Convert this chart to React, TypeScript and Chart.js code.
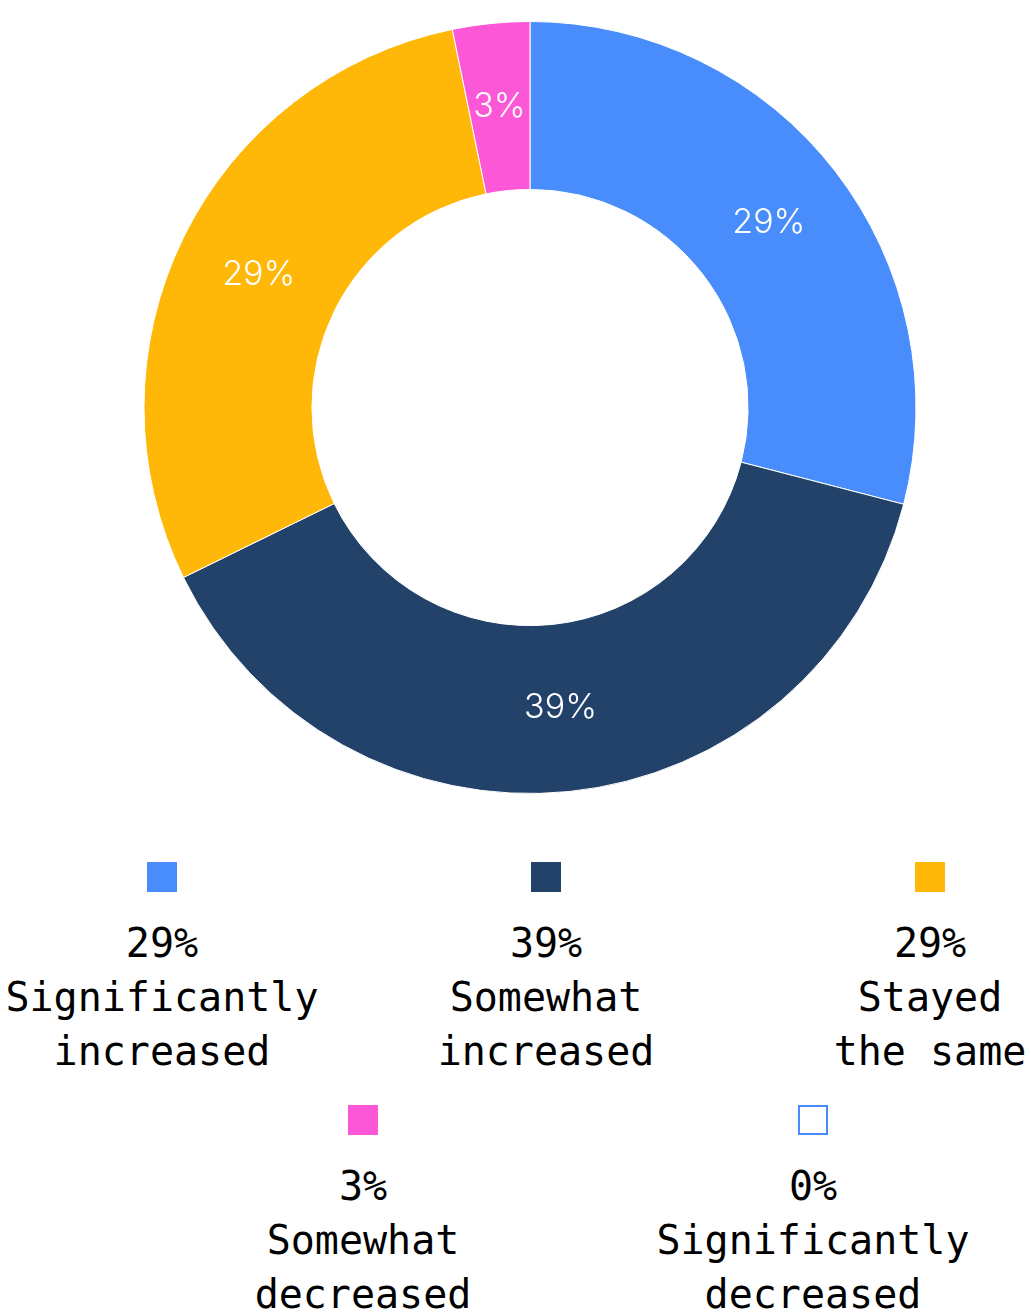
import React, { useEffect, useRef } from "react";
import { Chart, registerables } from "chart.js";

Chart.register(...registerables);

const categories = [
  "Significantly increased",
  "Somewhat increased",
  "Stayed the same",
  "Somewhat decreased",
  "Significantly decreased",
];
const legendLines = [
  ["Significantly", "increased"],
  ["Somewhat", "increased"],
  ["Stayed", "the same"],
  ["Somewhat", "decreased"],
  ["Significantly", "decreased"],
];
const counts = [9, 12, 9, 1, 0];
const colors = ["#488DFB", "#22426A", "#FFB808", "#FB57D7", "#488DFB"];

const total = counts.reduce((a, b) => a + b, 0);
const pct = (v: number) => Math.round((v / total) * 100);

const labelPlugin = {
  id: "sliceLabels",
  afterDatasetsDraw(chart: any) {
    const ctx = chart.ctx;
    const meta = chart.getDatasetMeta(0);
    ctx.save();
    ctx.fillStyle = "#ffffff";
    ctx.font = "300 34px Inter, 'Noto Sans', sans-serif";
    ctx.textAlign = "center";
    ctx.textBaseline = "middle";
    meta.data.forEach((arc: any, i: number) => {
      const v = counts[i];
      if (!v) return;
      const p = arc.tooltipPosition();
      ctx.fillText(pct(v) + "%", p.x, p.y);
    });
    ctx.restore();
  },
};

const rows = [
  { items: [0, 1, 2], left: 2, gap: 64, top: 862 },
  { items: [3, 4], left: 203, gap: 130, top: 1105 },
];

function LegendItem({ i }: { i: number }) {
  const empty = counts[i] === 0;
  return (
    <div
      style={{
        width: 320,
        display: "flex",
        flexDirection: "column",
        alignItems: "center",
      }}
    >
      <div
        style={{
          width: 30,
          height: 30,
          boxSizing: "border-box",
          background: empty ? "#ffffff" : colors[i],
          border: empty ? `2px solid ${colors[i]}` : "none",
          marginBottom: 24,
        }}
      />
      <div
        style={{
          fontFamily: "'DejaVu Sans Mono', monospace",
          fontSize: 40,
          lineHeight: "54px",
          color: "#000",
          textAlign: "center",
          whiteSpace: "pre",
        }}
      >
        {[pct(counts[i]) + "%", ...legendLines[i]].join("\n")}
      </div>
    </div>
  );
}

export default function App() {
  const canvasRef = useRef<HTMLCanvasElement | null>(null);

  useEffect(() => {
    if (!canvasRef.current) return;
    const chart = new Chart(canvasRef.current, {
      type: "doughnut",
      data: {
        labels: categories,
        datasets: [
          {
            data: counts,
            backgroundColor: colors,
            borderColor: "#ffffff",
            borderWidth: 1,
          },
        ],
      },
      options: {
        animation: false,
        responsive: false,
        maintainAspectRatio: false,
        cutout: "56.5%",
        layout: { padding: { top: 21, bottom: 20, left: 29, right: 0 } },
        plugins: {
          legend: { display: false },
          tooltip: { enabled: false },
        },
      },
      plugins: [labelPlugin],
    });
    return () => chart.destroy();
  }, []);

  return (
    <div
      style={{
        position: "fixed",
        left: 0,
        top: 0,
        width: 1031,
        height: 1312,
        overflow: "hidden",
        background: "#ffffff",
      }}
    >
      <canvas
        ref={canvasRef}
        width={1031}
        height={814}
        style={{ position: "absolute", left: 0, top: 0, width: 1031, height: 814 }}
      />
      {rows.map((r, ri) => (
        <div
          key={ri}
          style={{
            position: "absolute",
            top: r.top,
            left: r.left,
            display: "flex",
            gap: r.gap,
          }}
        >
          {r.items.map((i) => (
            <LegendItem key={i} i={i} />
          ))}
        </div>
      ))}
    </div>
  );
}
